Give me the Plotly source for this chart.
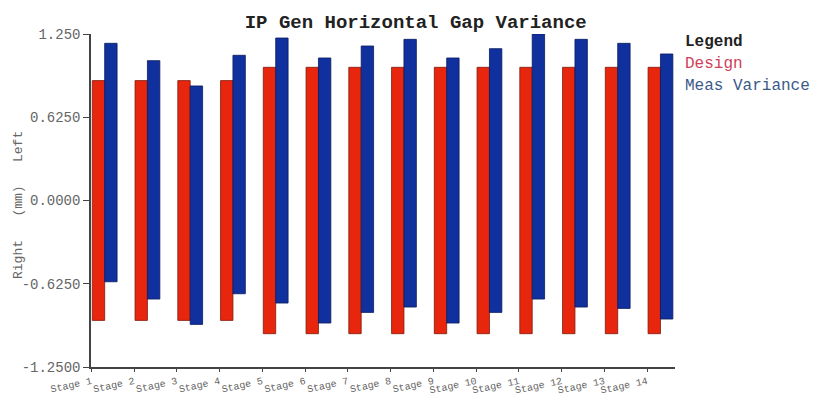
import plotly.graph_objects as go

stages = ["Stage %d" % i for i in range(1, 15)]
design_top = [0.90, 0.90, 0.90, 0.90, 1.00, 1.00, 1.00, 1.00, 1.00, 1.00, 1.00, 1.00, 1.00, 1.00]
design_bottom = [-0.90, -0.90, -0.90, -0.90, -1.00, -1.00, -1.00, -1.00, -1.00, -1.00, -1.00, -1.00, -1.00, -1.00]
meas_top = [1.18, 1.05, 0.86, 1.09, 1.22, 1.07, 1.16, 1.21, 1.07, 1.14, 1.25, 1.21, 1.18, 1.10]
meas_bottom = [-0.61, -0.74, -0.93, -0.70, -0.77, -0.92, -0.84, -0.80, -0.92, -0.84, -0.74, -0.80, -0.81, -0.89]
ytick_vals = [1.25, 0.625, 0.0, -0.625, -1.25]
ytick_text = ["1.250", "0.6250", "0.0000", "-0.6250", "-1.2500"]

FONT = "Liberation Mono, Courier New, monospace"

fig = go.Figure()
fig.add_trace(go.Bar(
    x=stages, y=[t - b for t, b in zip(design_top, design_bottom)], base=design_bottom,
    name="Design", width=0.29, offset=0.02,
    marker=dict(color="#e8260e", line=dict(color="#7a1a0a", width=0.8)),
))
fig.add_trace(go.Bar(
    x=stages, y=[t - b for t, b in zip(meas_top, meas_bottom)], base=meas_bottom,
    name="Meas Variance", width=0.29, offset=0.31,
    marker=dict(color="#10309e", line=dict(color="#0a1a60", width=0.8)),
))

fig.update_layout(
    width=822, height=399,
    margin=dict(l=91, r=147, t=34, b=32, autoexpand=False),
    paper_bgcolor="white", plot_bgcolor="white",
    barmode="overlay", showlegend=False,
    font=dict(family=FONT, color="#555555"),
    title=dict(text="<b>IP Gen Horizontal Gap Variance</b>", x=0.556, xref="paper",
               xanchor="center", y=1 - 21 / 399, yanchor="middle",
               font=dict(family=FONT, size=19, color="#222222")),
)
fig.update_xaxes(
    type="category", range=[-0.01, 13.65], automargin=False,
    showline=True, linecolor="#444444", linewidth=1.5,
    ticks="outside", ticklen=3, tickcolor="#444444",
    tickangle=-12, tickfont=dict(family=FONT, size=10, color="#666666"),
    showgrid=False, zeroline=False,
)
fig.update_yaxes(
    range=[-1.25, 1.25], tickvals=ytick_vals, ticktext=ytick_text, automargin=False,
    showline=True, linecolor="#444444", linewidth=1.5,
    ticks="outside", ticklen=6, tickcolor="#444444",
    tickfont=dict(family=FONT, size=14, color="#666666"),
    showgrid=False, zeroline=False,
)
fig.add_annotation(text="Right   (mm)   Left", textangle=-90, xref="paper", yref="paper",
                   x=(18 - 91) / 584, y=(367 - 205) / 333, xanchor="center", yanchor="middle",
                   showarrow=False, font=dict(family=FONT, size=13, color="#666666"))
fig.add_annotation(text="<b>Legend</b>", xref="paper", yref="paper",
                   x=(683 - 91) / 584, y=(367 - 42) / 333, xanchor="left", yanchor="middle",
                   showarrow=False, font=dict(family=FONT, size=16, color="#222222"))
fig.add_annotation(text="Design", xref="paper", yref="paper",
                   x=(683 - 91) / 584, y=(367 - 64) / 333, xanchor="left", yanchor="middle",
                   showarrow=False, font=dict(family=FONT, size=16, color="#d0405a"))
fig.add_annotation(text="Meas Variance", xref="paper", yref="paper",
                   x=(683 - 91) / 584, y=(367 - 86) / 333, xanchor="left", yanchor="middle",
                   showarrow=False, font=dict(family=FONT, size=16, color="#3a5a8a"))

fig.write_html("out.html", config={"displayModeBar": False},
               post_script="document.body.style.margin='0';document.body.style.overflow='hidden';")
